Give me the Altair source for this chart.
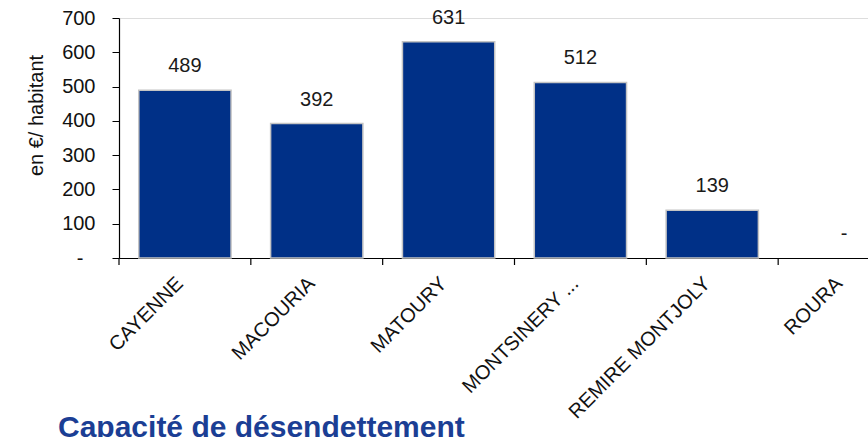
import altair as alt
import pandas as pd

communes = ["CAYENNE", "MACOURIA", "MATOURY", "MONTSINERY ...", "REMIRE MONTJOLY", "ROURA"]
valeurs = [489, 392, 631, 512, 139, 0]
y_ticks = [0, 100, 200, 300, 400, 500, 600, 700]
titre = "Capacité de désendettement"
y_titre = "en €/ habitant"

df = pd.DataFrame({
    "commune": communes,
    "valeur": valeurs,
    "etiquette": [str(v) if v != 0 else "-" for v in valeurs],
})

FONT = "Liberation Sans"
BAR = "#003087"

xscale = alt.Scale(domain=communes, range=[0, 791], paddingInner=0, paddingOuter=0)
yscale = alt.Scale(domain=[0, 700], nice=False)

xaxis = alt.Axis(title=None, labelAngle=-45, labelAlign="right",
                 labelBaseline="top", ticks=False, labelPadding=15,
                 labelOffset=-12, labelOverlap=False,
                 labelFontSize=20, labelFont=FONT, labelColor="#111111",
                 domainColor="#000000", domainWidth=1.2, labelLimit=400)
yaxis = alt.Axis(title=y_titre, values=y_ticks, grid=False,
                 labelOverlap=False,
                 labelExpr="datum.value == 0 ? '-' : datum.label",
                 tickSize=7,
                 labelPadding={"condition": {"test": "datum.value == 0", "value": 29},
                               "value": 17},
                 tickColor="#000000",
                 domainColor="#000000", domainWidth=1.2,
                 labelFontSize=20, labelFont=FONT, labelColor="#111111",
                 titleFontSize=20, titleFont=FONT, titleFontWeight="normal",
                 titleColor="#111111", titleX=-77, titleY=97,
                 titleAngle=270, titleAlign="center",
                 titleBaseline="alphabetic")

base = alt.Chart(df)

bars = base.mark_bar(
    width=alt.RelativeBandSize(0.7), color=BAR, stroke="#c4c4c4", strokeWidth=1.5
).encode(
    x=alt.X("commune:N", scale=xscale, sort=communes, axis=xaxis),
    y=alt.Y("valeur:Q", scale=yscale, axis=yaxis),
).transform_filter("datum.valeur > 0")

ticks = base.mark_rule(color="#000000", strokeWidth=1.2).encode(
    x=alt.X("commune:N", scale=xscale, sort=communes, bandPosition=0, axis=xaxis),
    y=alt.value(240),
    y2=alt.value(247),
)

labels = base.mark_text(
    font=FONT, fontSize=20, color="#1a1a1a", baseline="alphabetic", dy=-18
).encode(
    x=alt.X("commune:N", scale=xscale, sort=communes, axis=xaxis),
    y=alt.Y("valeur:Q", scale=yscale, axis=yaxis),
    text="etiquette:N",
)

title_df = pd.DataFrame({"t": [titre]})
title = alt.Chart(title_df).mark_text(
    font=FONT, fontSize=30, fontWeight="bold", color="#1b3e94",
    align="left", baseline="alphabetic"
).encode(
    x=alt.value(-61), y=alt.value(419), text="t:N"
)

chart = alt.layer(bars, ticks, labels, title).properties(
    width=749, height=240,
    autosize=alt.AutoSizeParams(type="none"),
    padding={"left": 119, "top": 18, "right": 0, "bottom": 179},
).configure_view(stroke=None).configure(background="white")

chart.save("out.html", embed_options={"renderer": "svg", "actions": False})
